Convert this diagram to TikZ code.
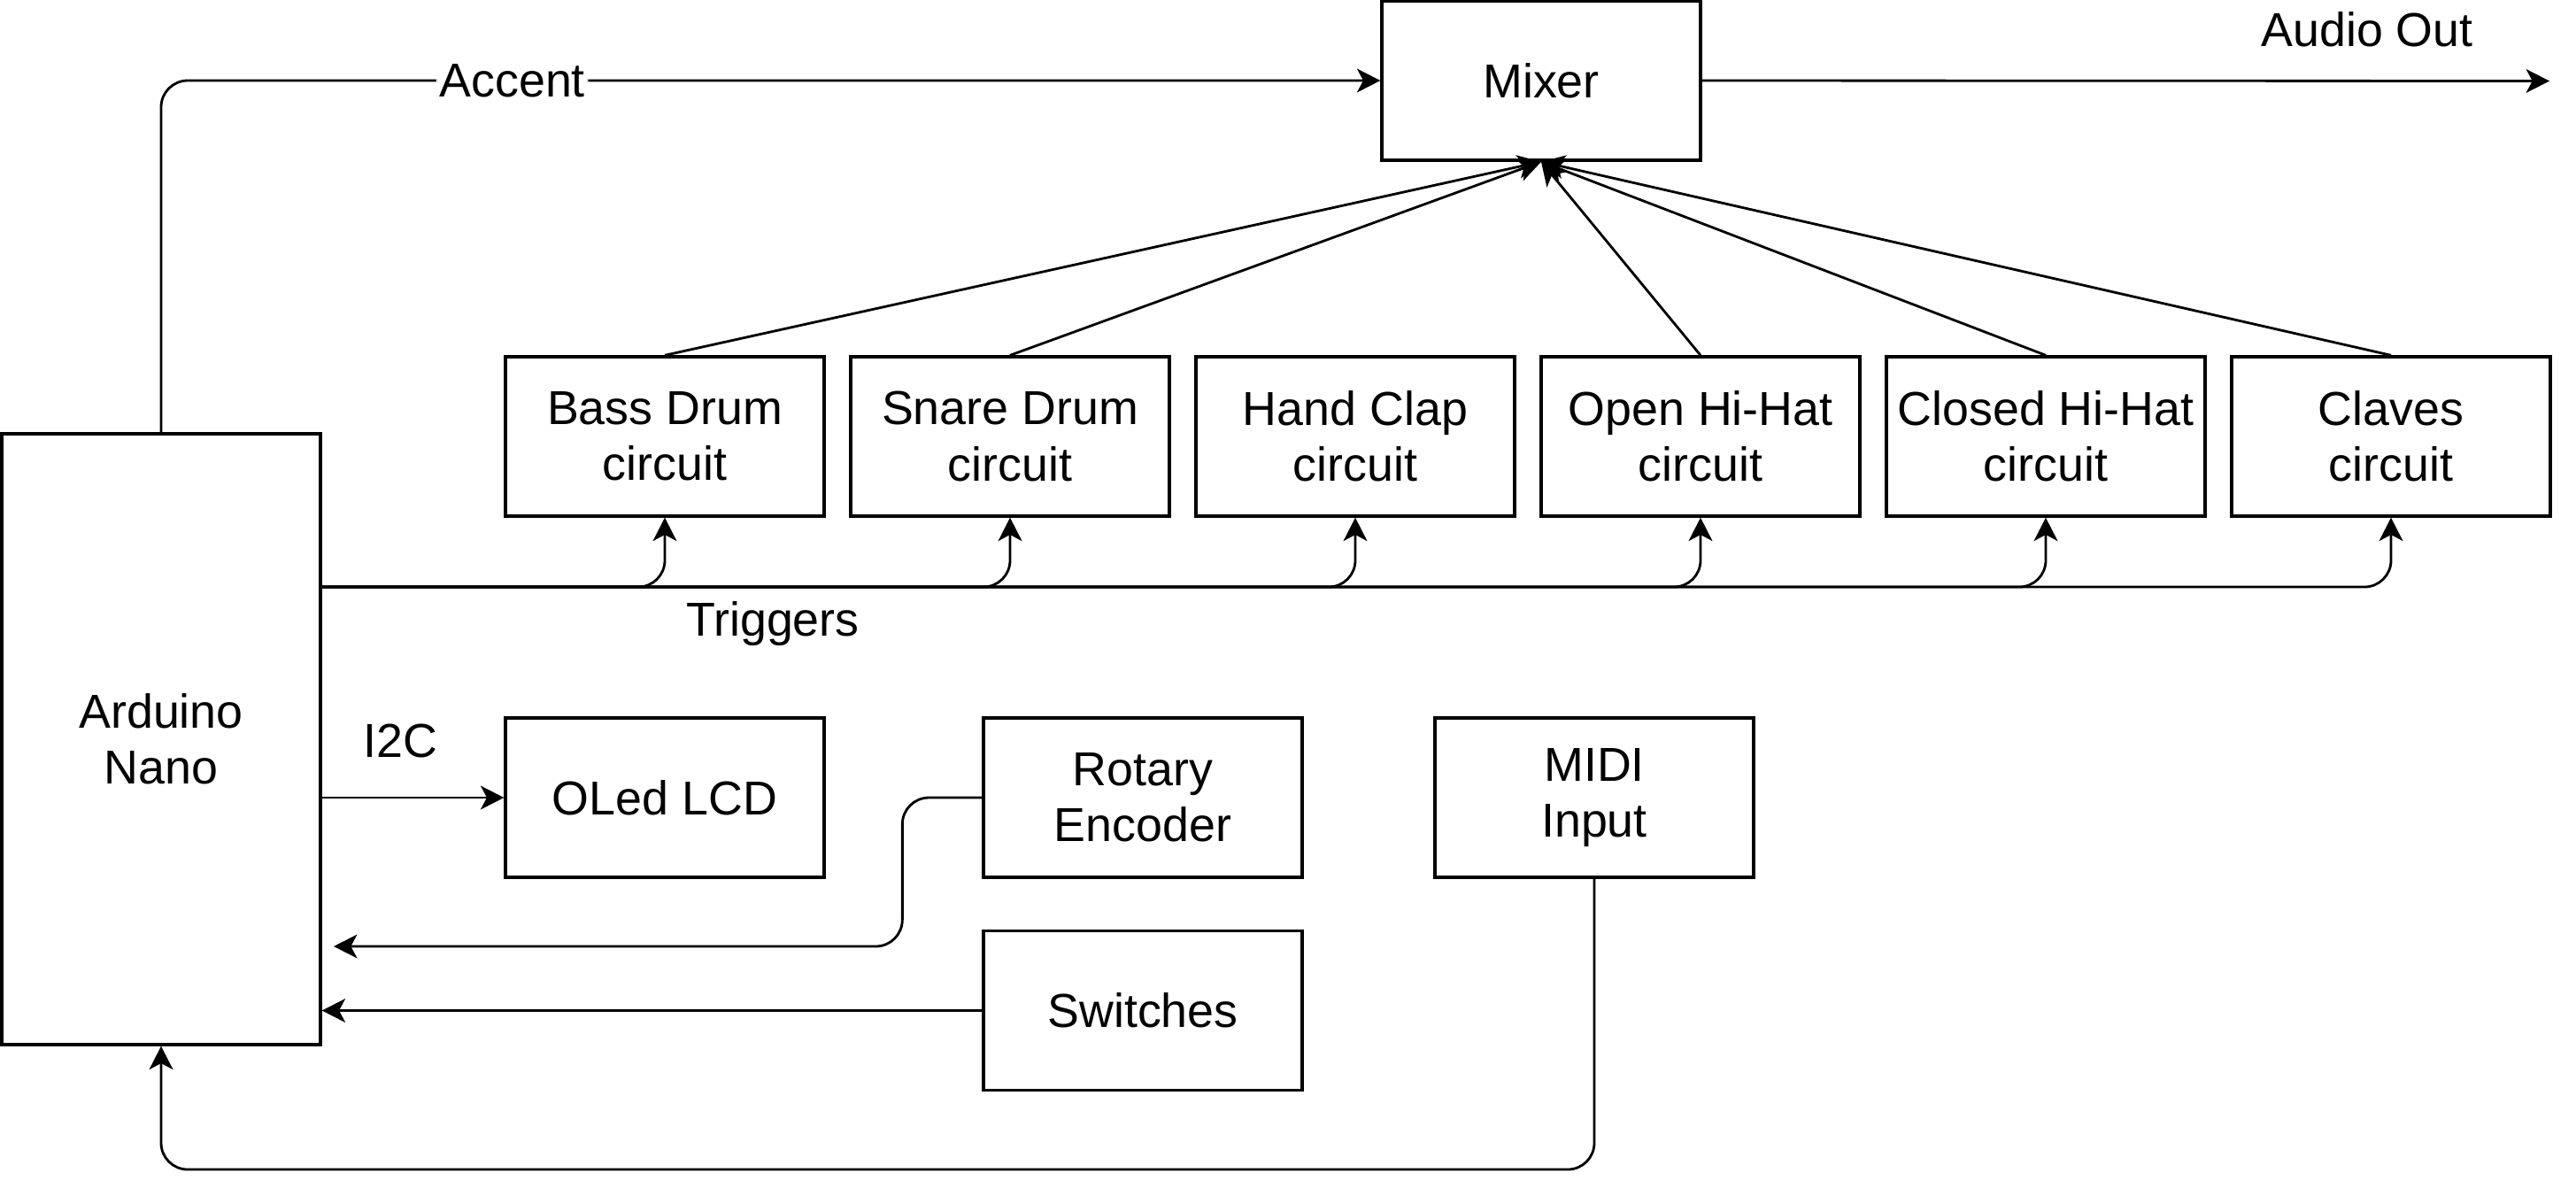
\documentclass[tikz,border=0pt]{standalone}
\usepackage{fontspec}
\setmainfont{Liberation Sans}
\usetikzlibrary{arrows.meta,positioning}
\tikzset{
  block/.style={draw,line width=0.95pt,minimum width=3.6cm,minimum height=1.8cm,
    inner sep=0pt,align=center,font=\fontsize{15.3}{18}\selectfont},
  label/.style={font=\fontsize{15.3}{18}\selectfont,inner sep=1pt},
  arr/.style={line width=0.8pt,-{Stealth[length=7.5pt,width=7.6pt,inset=2pt]}},
  wire/.style={arr,rounded corners=0.3cm}
}
\begin{document}
\begin{tikzpicture}
    \useasboundingbox (0,0) rectangle (29.1,-13.5);

    \node[block,minimum height=6.9cm] (ard) at (1.82,-8.35) {Arduino\\Nano};
    \node[block] (mix) at (17.41,-0.91) {Mixer};

    \foreach \name/\txt [count=\i] in {bd/Bass Drum, sd/Snare Drum, hc/Hand Clap,
        oh/Open Hi-Hat, ch/Closed Hi-Hat, cl/Claves}{% one box per voice
      \node[block] (\name) at (7.51+3.9*\i-3.9,-4.93) {\txt\\circuit};
    }

    \node[block] (lcd)  at (7.51,-9.01)   {OLed LCD};
    \node[block] (rot)  at (12.91,-9.01)  {Rotary\\Encoder};
    \node[block] (sw)   at (12.91,-11.415) {Switches};
    \node[block] (midi) at (18.01,-9.01)  {MIDI\\Input};

    \coordinate (aout)  at (28.8,-0.915);
    \coordinate (trig)  at (3.62,-6.63);
    \coordinate (rotin) at (3.77,-10.69);

    % accent and audio out
    \draw[wire] (ard.north) |- node[label,pos=0.644,fill=white] (acc) {Accent} (mix.west);
    \draw[arr] (mix.east) -- (aout);
    \node[label] (aoutlbl) at (26.74,-0.33) {Audio Out};

    % voices into the mixer
    \foreach \name in {bd,sd,oh,ch,cl}{
      \draw[arr] (\name.north) -- (mix.south);
    }

    % triggers
    \foreach \name in {bd,sd,hc,oh,ch,cl}{
      \draw[wire] (trig) -| (\name.south);
    }
    \node[label] (trglbl) at (8.73,-7.05) {Triggers};

    % control side
    \draw[arr] (ard.east |- lcd.west) -- (lcd.west);
    \node[label] (i2c) at (4.52,-8.37) {I2C};
    \draw[wire] (rot.west) -- ++(-0.9,0) |- (rotin);
    \draw[arr] (sw.west) -- (sw.west -| ard.east);
    \draw[wire] (midi.south) -- (midi.south |- 0,-13.21) -| (ard.south);
  \end{tikzpicture}
\end{document}
